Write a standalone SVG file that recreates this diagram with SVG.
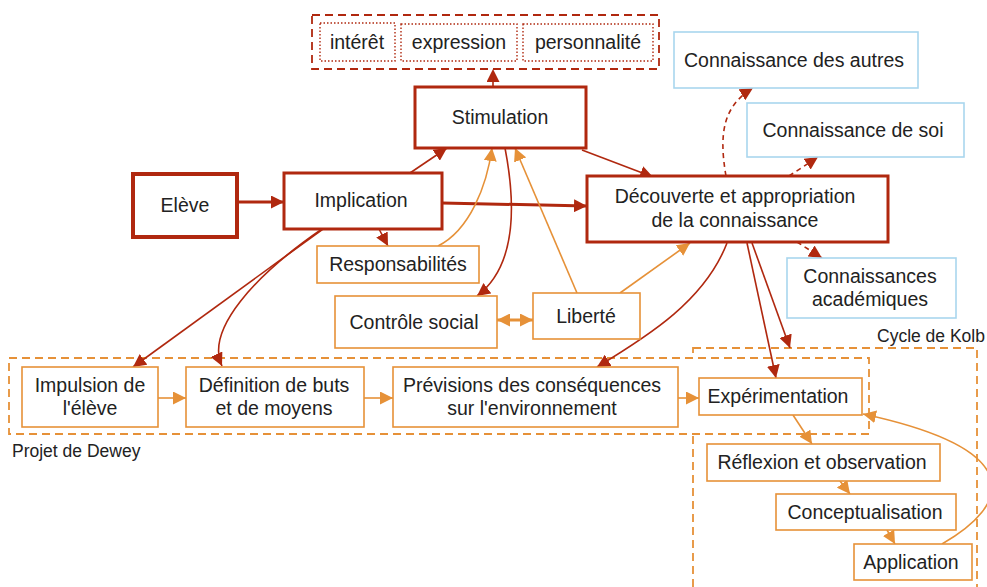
<svg xmlns="http://www.w3.org/2000/svg" width="987" height="587" viewBox="0 0 987 587">
<defs>
<style>
text{font-family:"Liberation Sans",Arial,sans-serif;font-size:19.5px;fill:#222;text-anchor:middle}
.lbl{font-size:17.5px;text-anchor:start}
.thick{fill:#fff;stroke:#b0280f;stroke-width:3}
.thicker{fill:#fff;stroke:#b0280f;stroke-width:4}
.or{fill:#fff;stroke:#e69138;stroke-width:1.6}
.bl{fill:#fff;stroke:#a9d6ee;stroke-width:1.6}
.dot{fill:none;stroke:#b0280f;stroke-width:1.4;stroke-dasharray:1.5 2}
.rgrp{fill:none;stroke:#b0280f;stroke-width:1.8;stroke-dasharray:8 5}
.ogrp{stroke:#e69138;stroke-width:1.8;stroke-dasharray:8 5}
.rc{fill:none;stroke:#b0280f;stroke-width:1.6;marker-end:url(#ar)}
.rcd{fill:none;stroke:#b0280f;stroke-width:1.6;stroke-dasharray:5 4;marker-end:url(#ar)}
.oc{fill:none;stroke:#e69138;stroke-width:1.6;marker-end:url(#ao)}
</style>
<marker id="ar" viewBox="0 0 10 10" refX="10" refY="5" markerWidth="13" markerHeight="13" markerUnits="userSpaceOnUse" orient="auto"><path d="M0,0 L10,5 L0,10 z" fill="#b0280f"/></marker>
<marker id="ao" viewBox="0 0 10 10" refX="10" refY="5" markerWidth="13" markerHeight="13" markerUnits="userSpaceOnUse" orient="auto-start-reverse"><path d="M0,0 L10,5 L0,10 z" fill="#e69138"/></marker>
</defs>
<rect width="987" height="587" fill="#fff"/>

<g id="groups">
<rect id="kolb" x="693" y="348" width="284" height="245" class="ogrp" fill="none"/>
<rect id="dewey" x="9" y="358" width="860" height="76" class="ogrp" fill="#fff"/>
<text class="lbl" x="877" y="342">Cycle de Kolb</text>
<text class="lbl" x="12" y="457">Projet de Dewey</text>
<rect id="stimgroup" x="312" y="15" width="347" height="54" class="rgrp"/>
</g>

<g id="connectors">
<path class="rc" d="M237,202 L284,202" style="stroke-width:3"/>
<path class="rc" d="M410,173 L447,148"/>
<path class="rc" d="M442,203 L587,206" style="stroke-width:3"/>
<path class="rc" d="M379,229 L388,246"/>
<path class="rc" d="M323,229 L133,367"/>
<path class="rc" d="M322,229 C255,275 205,330 222,366"/>
<path class="rc" d="M582,150 L653,177"/>
<path class="rc" d="M505,148 C515,200 518,265 477,296"/>
<path class="rc" d="M727,243 C705,300 650,335 597,367"/>
<path class="rc" d="M747,243 L776,378"/>
<path class="rc" d="M752,243 L790,348"/>
<path class="rcd" d="M493,87 L493,69"/>
<path class="rcd" d="M726,176 C718,130 725,105 753,88"/>
<path class="rcd" d="M789,176 L818,157"/>
<path class="rcd" d="M797,242 L822,258"/>
<path class="oc" d="M438,246 C470,230 487,185 492,148"/>
<path class="oc" d="M577,293 L515,148"/>
<path class="oc" d="M620,293 L690,243"/>
<path class="oc" d="M497,320 L533,320" style="stroke-width:3;marker-start:url(#ao)"/>
<path class="oc" d="M158,398 L186,398"/>
<path class="oc" d="M364,398 L393,398"/>
<path class="oc" d="M678,398 L699,398"/>
<path class="oc" d="M793,415 L812,444"/>
<path class="oc" d="M840,481 L850,494"/>
<path class="oc" d="M887,530 L895,544"/>
<path class="oc" d="M942,544 C1010,505 1030,450 863,414"/>
</g>

<g id="n-interet"><rect x="320" y="23" width="75" height="38" class="dot"/><text x="357" y="49">intérêt</text></g>
<g id="n-expression"><rect x="401" y="24" width="116" height="37" class="dot"/><text x="459" y="49">expression</text></g>
<g id="n-personnalite"><rect x="523" y="24" width="130" height="37" class="dot"/><text x="588" y="49">personnalité</text></g>
<g id="n-stimulation"><rect x="415" y="87" width="171" height="61" class="thick"/><text x="500" y="124">Stimulation</text></g>
<g id="n-eleve"><rect x="133" y="174" width="104" height="63" class="thicker"/><text x="185" y="212">Elève</text></g>
<g id="n-implication"><rect x="284" y="173" width="158" height="56" class="thick"/><text x="361" y="207">Implication</text></g>
<g id="n-responsabilites"><rect x="317" y="246" width="162" height="37" class="or"/><text x="398" y="271">Responsabilités</text></g>
<g id="n-controle"><rect x="335" y="296" width="162" height="52" class="or"/><text x="414" y="329">Contrôle social</text></g>
<g id="n-liberte"><rect x="533" y="293" width="107" height="46" class="or"/><text x="586" y="323">Liberté</text></g>
<g id="n-decouverte"><rect x="587" y="176" width="301" height="66" class="thick"/><text x="735" y="203">Découverte et appropriation</text><text x="735" y="227">de la connaissance</text></g>
<g id="n-autres"><rect x="674" y="32" width="244" height="56" class="bl"/><text x="794" y="67">Connaissance des autres</text></g>
<g id="n-soi"><rect x="747" y="103" width="217" height="54" class="bl"/><text x="853" y="137">Connaissance de soi</text></g>
<g id="n-academiques"><rect x="787" y="258" width="169" height="60" class="bl"/><text x="870" y="283">Connaissances</text><text x="870" y="306">académiques</text></g>
<g id="n-impulsion"><rect x="22" y="367" width="136" height="60" class="or"/><text x="90" y="392">Impulsion de</text><text x="90" y="415">l'élève</text></g>
<g id="n-definition"><rect x="186" y="367" width="178" height="60" class="or"/><text x="274" y="392">Définition de buts</text><text x="274" y="415">et de moyens</text></g>
<g id="n-previsions"><rect x="393" y="367" width="285" height="60" class="or"/><text x="532" y="392">Prévisions des conséquences</text><text x="532" y="415">sur l'environnement</text></g>
<g id="n-experimentation"><rect x="699" y="378" width="163" height="37" class="or"/><text x="778" y="403">Expérimentation</text></g>
<g id="n-reflexion"><rect x="707" y="444" width="233" height="37" class="or"/><text x="822" y="469">Réflexion et observation</text></g>
<g id="n-conceptualisation"><rect x="776" y="494" width="180" height="36" class="or"/><text x="865" y="519">Conceptualisation</text></g>
<g id="n-application"><rect x="854" y="544" width="118" height="36" class="or"/><text x="911" y="569">Application</text></g>
</svg>
